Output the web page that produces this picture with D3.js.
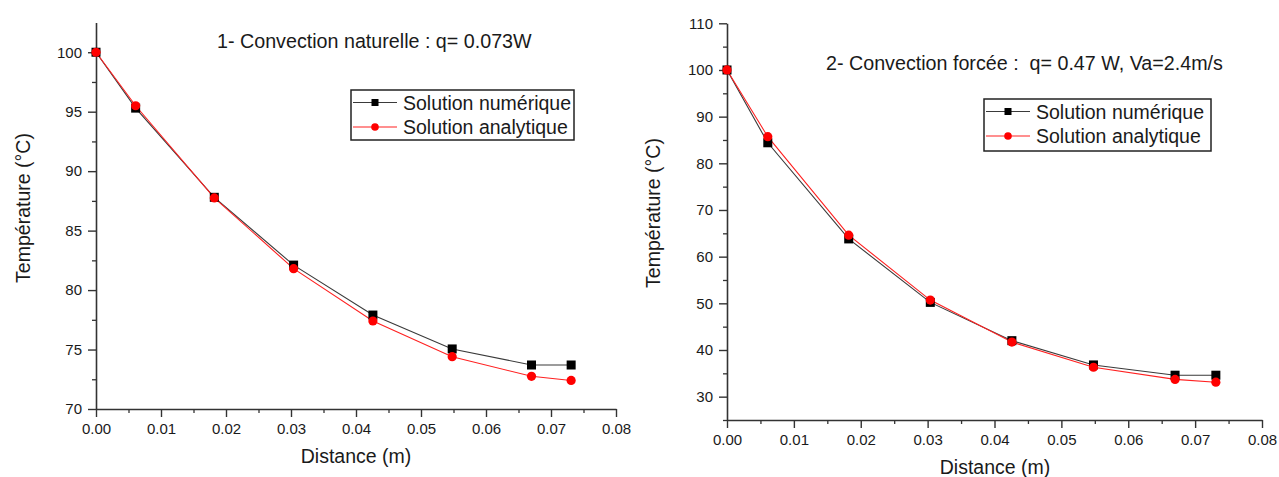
<!DOCTYPE html>
<html>
<head>
<meta charset="utf-8">
<script src="https://cdn.jsdelivr.net/npm/d3@7"></script>
<style>
  html, body { margin: 0; padding: 0; background: #fff; }
  svg { display: block; }
  text { font-family: "Liberation Sans", Arial, sans-serif; fill: #1a1a1a; }
</style>
</head>
<body>
<svg id="chart" width="1279" height="477"></svg>
<script>
// ---------- DATA ----------
const distance = [0, 0.0061, 0.0182, 0.0304, 0.0426, 0.0548, 0.0670, 0.0731];

const natNumerique = [100, 95.3, 87.8, 82.1, 77.9, 75.05, 73.7, 73.7];
const natAnalytique = [100, 95.5, 87.75, 81.8, 77.4, 74.4, 72.75, 72.4];

const forNumerique = [100, 84.4, 63.8, 50.2, 42.0, 36.8, 34.6, 34.6];
const forAnalytique = [100, 85.7, 64.6, 50.7, 41.7, 36.3, 33.7, 33.1];

const xTickValues = [0, 0.01, 0.02, 0.03, 0.04, 0.05, 0.06, 0.07, 0.08];
const natYTicks = [70, 75, 80, 85, 90, 95, 100];
const forYTicks = [30, 40, 50, 60, 70, 80, 90, 100, 110];

const seriesNames = ["Solution numérique", "Solution analytique"];
const chartTitles = ["1- Convection naturelle : q= 0.073W",
                     "2- Convection forcée :  q= 0.47 W, Va=2.4m/s"];
const xAxisTitle = "Distance (m)";
const yAxisTitle = "Température (°C)";

// ---------- LAYOUT ----------
const svg = d3.select("#chart");
const FONT = '"Liberation Sans", Arial, sans-serif';

const panels = [
  {
    num: natNumerique, ana: natAnalytique, yTicks: natYTicks,
    yDomain: [70, 102.5], xDomain: [0, 0.08],
    left: 96, right: 616, top: 22.5, bottom: 409,
    title: chartTitles[0], titleX: 217, titleY: 47.5,
    legend: { x: 351, y: 90, w: 223, h: 50 },
    xTitleX: 356, xTitleY: 463, yTitleX: 30, yTitleY: 208
  },
  {
    num: forNumerique, ana: forAnalytique, yTicks: forYTicks,
    yDomain: [25, 110], xDomain: [0, 0.08],
    left: 727, right: 1262, top: 23.3, bottom: 420,
    title: chartTitles[1], titleX: 826, titleY: 69.5,
    legend: { x: 984, y: 99, w: 227, h: 52 },
    xTitleX: 995, xTitleY: 474, yTitleX: 660, yTitleY: 213
  }
];

function minorBetween(ticks) {
  const out = d3.pairs(ticks, (a, b) => (a + b) / 2);
  return out;
}

panels.forEach(p => {
  const x = d3.scaleLinear().domain(p.xDomain).range([p.left, p.right]);
  const y = d3.scaleLinear().domain(p.yDomain).range([p.bottom, p.top]);
  const g = svg.append("g");

  // minor ticks
  const xMinor = minorBetween(xTickValues);
  const yMinorVals = minorBetween(p.yTicks);
  if (p.yDomain[0] < p.yTicks[0]) yMinorVals.unshift(p.yTicks[0] - (p.yTicks[1] - p.yTicks[0]) / 2);

  g.append("g")
    .attr("transform", `translate(0,${p.bottom})`)
    .call(d3.axisBottom(x).tickValues(xMinor).tickSize(4).tickSizeOuter(0).tickFormat(""))
    .call(s => s.select(".domain").remove())
    .call(s => s.selectAll("line").attr("stroke", "#333").attr("stroke-width", 1.3));

  g.append("g")
    .attr("transform", `translate(${p.left},0)`)
    .call(d3.axisLeft(y).tickValues(yMinorVals).tickSize(4).tickSizeOuter(0).tickFormat(""))
    .call(s => s.select(".domain").remove())
    .call(s => s.selectAll("line").attr("stroke", "#333").attr("stroke-width", 1.3));

  // major axes
  const xAx = g.append("g")
    .attr("transform", `translate(0,${p.bottom})`)
    .call(d3.axisBottom(x).tickValues(xTickValues).tickSize(8).tickSizeOuter(0)
      .tickPadding(6).tickFormat(d3.format(".2f")));
  const yAx = g.append("g")
    .attr("transform", `translate(${p.left},0)`)
    .call(d3.axisLeft(y).tickValues(p.yTicks).tickSize(8).tickSizeOuter(0)
      .tickPadding(6).tickFormat(d3.format("d")));
  [xAx, yAx].forEach(a => {
    a.select(".domain").attr("stroke", "#333").attr("stroke-width", 1.6);
    a.selectAll(".tick line").attr("stroke", "#333").attr("stroke-width", 1.4);
    a.selectAll(".tick text").attr("font-family", FONT).attr("font-size", 15).attr("fill", "#1a1a1a");
  });

  // axis titles
  g.append("text")
    .attr("x", p.xTitleX).attr("y", p.xTitleY)
    .attr("text-anchor", "middle").attr("font-size", 19.5)
    .text(xAxisTitle);
  g.append("text")
    .attr("transform", `translate(${p.yTitleX},${p.yTitleY}) rotate(-90)`)
    .attr("text-anchor", "middle").attr("font-size", 19.5)
    .text(yAxisTitle);

  // chart title
  g.append("text")
    .attr("x", p.titleX).attr("y", p.titleY)
    .attr("font-size", 19.7)
    .style("white-space", "pre")
    .text(p.title);

  // series
  const numData = distance.map((d, i) => [d, p.num[i]]);
  const anaData = distance.map((d, i) => [d, p.ana[i]]);
  const line = d3.line().x(d => x(d[0])).y(d => y(d[1]));

  g.append("path").datum(numData).attr("d", line)
    .attr("fill", "none").attr("stroke", "#3a3a3a").attr("stroke-width", 1.1);
  g.append("path").datum(anaData).attr("d", line)
    .attr("fill", "none").attr("stroke", "#ff2020").attr("stroke-width", 1.1);

  g.selectAll(".sq").data(numData).join("rect")
    .attr("x", d => x(d[0]) - 4.5).attr("y", d => y(d[1]) - 4.5)
    .attr("width", 9).attr("height", 9).attr("fill", "#000");
  g.selectAll(".ci").data(anaData).join("circle")
    .attr("cx", d => x(d[0])).attr("cy", d => y(d[1]))
    .attr("r", 4.6).attr("fill", "#ff0000");

  // legend
  const L = p.legend;
  const lg = g.append("g");
  lg.append("rect").attr("x", L.x).attr("y", L.y).attr("width", L.w).attr("height", L.h)
    .attr("fill", "#fff").attr("stroke", "#222").attr("stroke-width", 1.5);
  const rowY = [L.y + 12.5, L.y + 37];
  const colors = ["#3a3a3a", "#ff2020"];
  seriesNames.forEach((name, i) => {
    lg.append("line").attr("x1", L.x + 2).attr("x2", L.x + 46)
      .attr("y1", rowY[i]).attr("y2", rowY[i])
      .attr("stroke", colors[i]).attr("stroke-width", 1.1);
    if (i === 0) {
      lg.append("rect").attr("x", L.x + 24 - 3.5).attr("y", rowY[i] - 3.5)
        .attr("width", 7).attr("height", 7).attr("fill", "#000");
    } else {
      lg.append("circle").attr("cx", L.x + 24).attr("cy", rowY[i]).attr("r", 3.8).attr("fill", "#ff0000");
    }
    lg.append("text").attr("x", L.x + 52).attr("y", rowY[i]).attr("dy", "0.36em")
      .attr("font-size", 19.5).text(name);
  });
});
</script>
</body>
</html>
